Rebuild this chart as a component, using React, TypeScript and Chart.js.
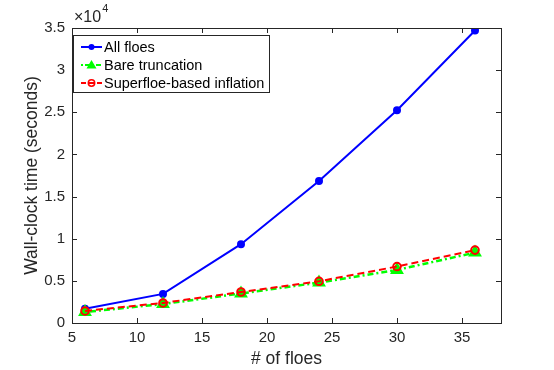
import React, { useEffect, useRef } from "react";
import { Chart, registerables } from "chart.js";

Chart.register(...registerables);

const floes = [6, 12, 18, 24, 30, 36];
const allFloes = [1700, 3450, 9350, 16850, 25250, 34700];
const bareTruncation = [1300, 2250, 3500, 4800, 6300, 8350];
const superfloe = [1430, 2380, 3680, 4950, 6700, 8650];
const yTicks = [0, 5000, 10000, 15000, 20000, 25000, 30000, 35000];
const xTicks = [5, 10, 15, 20, 25, 30, 35];
const seriesNames = ["All floes", "Bare truncation", "Superfloe-based inflation"];

const FONT = "'Liberation Sans', Arial, Helvetica, sans-serif";
const AX = "#262626";

const boxPlugin = {
  id: "boxPlugin",
  afterDraw(chart: any) {
    const { ctx, chartArea: a, scales } = chart;
    const xs = scales.x;
    const ys = scales.y;
    ctx.save();
    ctx.strokeStyle = AX;
    ctx.lineWidth = 1;
    ctx.strokeRect(a.left + 0.5, a.top + 0.5, a.right - a.left, a.bottom - a.top);
    const tl = 5;
    ctx.beginPath();
    xTicks.forEach((t) => {
      const px = Math.round(xs.getPixelForValue(t)) + 0.5;
      ctx.moveTo(px, a.bottom);
      ctx.lineTo(px, a.bottom - tl);
      ctx.moveTo(px, a.top);
      ctx.lineTo(px, a.top + tl);
    });
    yTicks.forEach((t) => {
      const py = Math.round(ys.getPixelForValue(t)) + 0.5;
      ctx.moveTo(a.left, py);
      ctx.lineTo(a.left + tl, py);
      ctx.moveTo(a.right, py);
      ctx.lineTo(a.right - tl, py);
    });
    ctx.stroke();

    // exponent label
    ctx.fillStyle = AX;
    ctx.font = `16px ${FONT}`;
    ctx.textBaseline = "alphabetic";
    ctx.textAlign = "left";
    ctx.fillText("\u00d710", a.left + 2, a.top - 6);
    const w = ctx.measureText("\u00d710").width;
    ctx.font = `11px ${FONT}`;
    ctx.fillText("4", a.left + 2 + w + 1, a.top - 16);

    // legend
    const lx = a.left + 1.5;
    const ly = 35.5;
    const lw = 196;
    const lh = 57;
    ctx.fillStyle = "#fff";
    ctx.fillRect(lx, ly, lw, lh);
    ctx.strokeStyle = AX;
    ctx.lineWidth = 1;
    ctx.strokeRect(lx, ly, lw, lh);
    const rows = [
      { color: "#0000ff", dash: [] as number[], marker: "dot" },
      { color: "#00ff00", dash: [2, 2, 5, 2], marker: "tri" },
      { color: "#ff0000", dash: [5, 3], marker: "circ" },
    ];
    rows.forEach((r, i) => {
      const cy = 47 + i * 18;
      const x0 = 81;
      const x1 = 102;
      ctx.save();
      ctx.strokeStyle = r.color;
      ctx.lineWidth = 2;
      ctx.setLineDash(r.dash);
      ctx.beginPath();
      ctx.moveTo(x0, cy);
      ctx.lineTo(x1, cy);
      ctx.stroke();
      ctx.setLineDash([]);
      const mx = (x0 + x1) / 2;
      if (r.marker === "dot") {
        ctx.fillStyle = r.color;
        ctx.beginPath();
        ctx.arc(mx, cy, 3, 0, Math.PI * 2);
        ctx.fill();
      } else if (r.marker === "tri") {
        ctx.fillStyle = r.color;
        ctx.beginPath();
        ctx.moveTo(mx, cy - 5);
        ctx.lineTo(mx + 5, cy + 3.5);
        ctx.lineTo(mx - 5, cy + 3.5);
        ctx.closePath();
        ctx.fill();
      } else {
        ctx.strokeStyle = r.color;
        ctx.lineWidth = 1.5;
        ctx.beginPath();
        ctx.arc(mx, cy, 3.2, 0, Math.PI * 2);
        ctx.stroke();
      }
      ctx.restore();
      ctx.fillStyle = "#000";
      ctx.font = `14.5px ${FONT}`;
      ctx.textBaseline = "middle";
      ctx.textAlign = "left";
      ctx.fillText(seriesNames[i], 104, cy + 0.5);
    });
    ctx.restore();
  },
};

export default function App() {
  const ref = useRef<HTMLCanvasElement>(null);
  useEffect(() => {
    if (!ref.current) return;
    const chart = new Chart(ref.current, {
      type: "line",
      data: {
        datasets: [
          {
            label: seriesNames[0],
            data: floes.map((x, i) => ({ x, y: allFloes[i] })),
            borderColor: "#0000ff",
            backgroundColor: "#0000ff",
            borderWidth: 2,
            pointRadius: 3,
            pointStyle: "circle",
            order: 3,
          },
          {
            label: seriesNames[1],
            data: floes.map((x, i) => ({ x, y: bareTruncation[i] })),
            borderColor: "#00ff00",
            backgroundColor: "#00ff00",
            borderWidth: 2.5,
            borderDash: [2, 3, 6, 3],
            pointRadius: 5.5,
            pointStyle: "triangle",
            order: 2,
          },
          {
            label: seriesNames[2],
            data: floes.map((x, i) => ({ x, y: superfloe[i] })),
            borderColor: "#ff0000",
            backgroundColor: "rgba(0,0,0,0)",
            borderWidth: 2,
            borderDash: [7, 4],
            pointRadius: 3.8,
            pointBorderWidth: 2,
            pointStyle: "circle",
            order: 1,
          },
        ],
      },
      options: {
        animation: false,
        responsive: false,
        maintainAspectRatio: false,
        layout: { padding: { top: 28, right: 53, left: 22, bottom: 0 } },
        plugins: { legend: { display: false }, tooltip: { enabled: false } },
        scales: {
          x: {
            type: "linear",
            min: 5,
            max: 38,
            afterBuildTicks: (s: any) => {
              s.ticks = xTicks.map((v) => ({ value: v }));
            },
            afterFit: (s: any) => {
              s.height = 370 - 323;
            },
            grid: { display: false, drawTicks: false },
            border: { display: false },
            ticks: { color: AX, font: { size: 15, family: FONT }, padding: 6 },
            title: {
              display: true,
              text: "# of floes",
              color: AX,
              font: { size: 17.5, family: FONT },
              padding: { top: 0, bottom: 0 },
            },
          },
          y: {
            type: "linear",
            min: 0,
            max: 35000,
            afterBuildTicks: (s: any) => {
              s.ticks = yTicks.map((v) => ({ value: v }));
            },
            afterFit: (s: any) => {
              s.width = 50;
            },
            grid: { display: false, drawTicks: false },
            border: { display: false },
            ticks: {
              color: AX,
              font: { size: 15, family: FONT },
              padding: 7,
              callback: (v: any) => String(Number(v) / 10000),
            },
            title: {
              display: true,
              text: "Wall-clock time (seconds)",
              color: AX,
              font: { size: 17.5, family: FONT },
              padding: { top: 0, bottom: 0 },
            },
          },
        },
      },
      plugins: [boxPlugin],
    });
    return () => chart.destroy();
  }, []);
  return (
    <div style={{ position: "fixed", left: 0, top: 0, width: 554, height: 370, background: "#fff" }}>
      <canvas ref={ref} width={554} height={370} />
    </div>
  );
}
